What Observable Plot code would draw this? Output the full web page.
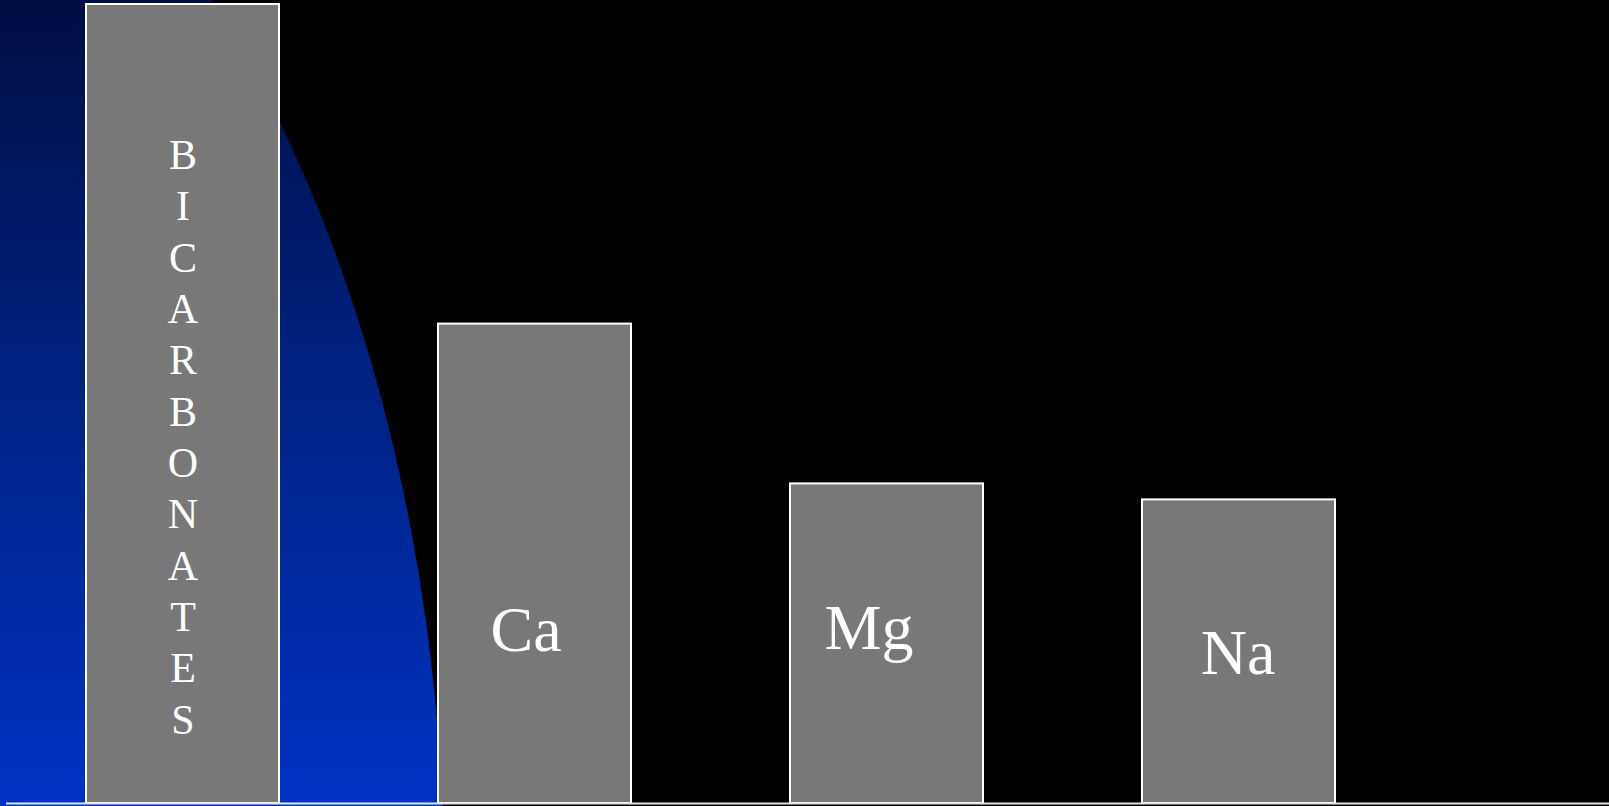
<!DOCTYPE html>
<html>
<head>
<meta charset="utf-8">
<script src="https://cdn.jsdelivr.net/npm/d3@7"></script>
<script src="https://cdn.jsdelivr.net/npm/@observablehq/plot@0.6"></script>
<style>
  html, body { margin: 0; padding: 0; background: #000; overflow: hidden; }
  #wrap { position: relative; width: 1609px; height: 806px; }
  #bg {
    position: absolute; left: 0; top: 0; width: 1609px; height: 806px;
    background: linear-gradient(to bottom, #000d42 0%, #00217f 45%, #0032c4 100%);
    clip-path: ellipse(745px 1239px at -300px 900px);
  }
  #chart { position: absolute; left: 0; top: 0; }
  #chart svg { display: block; }
</style>
</head>
<body>
<div id="wrap"><div id="bg"></div><div id="chart"></div></div>
<script>
// Data
const categories = ["BICARBONATES", "Ca", "Mg", "Na"];
const values = [100, 60, 40, 38];
const labels = ["BICARBONATES".split("").join("\n"), "Ca", "Mg", "Na"];

const data = categories.map((c, i) => ({cat: c, value: values[i], label: labels[i]}));

const serif = "'Liberation Serif', 'Times New Roman', serif";
const labelMark = (cat, opts) => Plot.text(data.filter(d => d.cat === cat), {
  x: "cat", y: () => 0, text: "label", fill: "white", fontFamily: serif,
  lineAnchor: "bottom", textAnchor: "middle", ...opts
});

const chart = Plot.plot({
  width: 1609,
  height: 806,
  marginLeft: 6,
  marginRight: 0,
  marginTop: 4,
  marginBottom: 3,
  x: {type: "band", domain: categories, paddingInner: 0.452, paddingOuter: 0.501, align: 0.2266, axis: null},
  y: {domain: [0, 100], axis: null},
  style: {background: "transparent", overflow: "visible"},
  marks: [
    Plot.barY(data, {x: "cat", y: "value", fill: "#787878", stroke: "#ffffff", strokeWidth: 2}),
    labelMark("BICARBONATES", {fontSize: 42, lineHeight: 1.222, dy: -70}),
    labelMark("Ca", {fontSize: 64, dx: -9, dy: -153}),
    labelMark("Mg", {fontSize: 64, dx: -18, dy: -155}),
    labelMark("Na", {fontSize: 64, dx: -1, dy: -130}),
    Plot.ruleY([0], {stroke: "#e4e4e4", strokeWidth: 2})
  ]
});
document.getElementById("chart").appendChild(chart);
</script>
</body>
</html>
